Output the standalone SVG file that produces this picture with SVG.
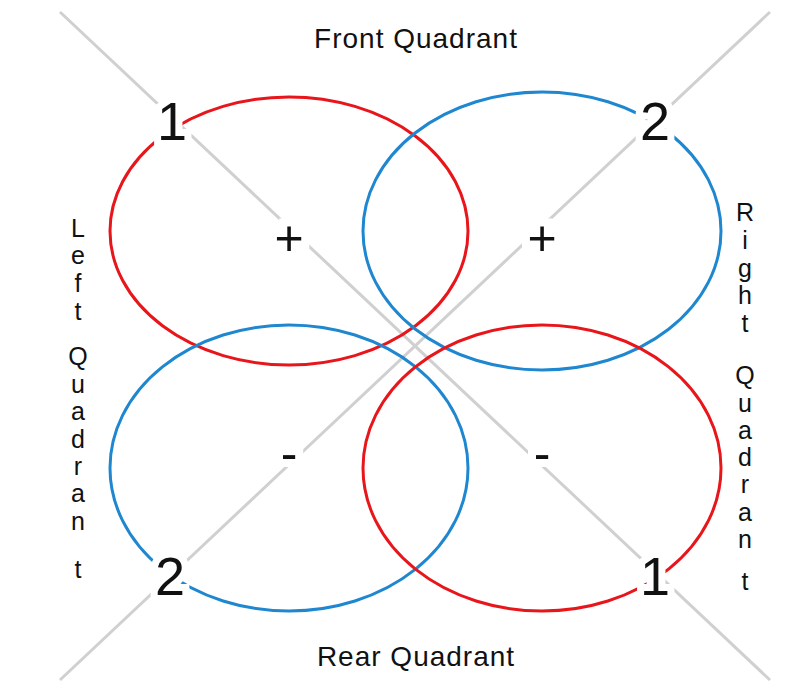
<svg xmlns="http://www.w3.org/2000/svg" width="811" height="691" viewBox="0 0 811 691">
<style>
.l{stroke:#d0d0d0;stroke-width:3;fill:none}
.r{stroke:#e8161b;stroke-width:3;fill:none}
.b{stroke:#1f87d0;stroke-width:3;fill:none}
.n{font-family:"Liberation Sans",sans-serif;font-size:54px;fill:#111;text-anchor:middle;stroke:#fff;stroke-width:14;paint-order:stroke}
.s{font-family:"Liberation Sans",sans-serif;font-size:50px;fill:#111;text-anchor:middle;stroke:#fff;stroke-width:16;paint-order:stroke}
.t{font-family:"Liberation Sans",sans-serif;font-size:28px;letter-spacing:1px;fill:#111;text-anchor:middle}
.v{font-family:"Liberation Sans",sans-serif;font-size:25px;fill:#111;text-anchor:middle}
</style>
<g id="connectors">
<line class="l" x1="60" y1="12" x2="770" y2="680"/>
<line class="l" x1="770" y1="12" x2="60" y2="680"/>
</g>
<g id="circles">
<ellipse id="c1" class="r" cx="289" cy="231" rx="179" ry="134"/>
<ellipse id="c2" class="b" cx="542" cy="231" rx="179" ry="139"/>
<ellipse id="c3" class="b" cx="289" cy="468" rx="179" ry="143"/>
<ellipse id="c4" class="r" cx="542" cy="468" rx="179" ry="143"/>
</g>
<g id="labels">
<text class="n" x="172" y="140">1</text>
<text class="n" x="655" y="140">2</text>
<text class="n" x="170" y="595">2</text>
<text class="n" x="655" y="595">1</text>
<text class="s" x="289" y="255">+</text>
<text class="s" x="542" y="255">+</text>
<text class="s" x="289" y="470">-</text>
<text class="s" x="542" y="470">-</text>
<text class="t" x="416" y="48">Front Quadrant</text>
<text class="t" x="416" y="666">Rear Quadrant</text>
</g>
<g id="left-label">
<text class="v" x="78" y="237">L</text><text class="v" x="78" y="264">e</text><text class="v" x="78" y="292">f</text><text class="v" x="78" y="320">t</text><text class="v" x="78" y="365">Q</text><text class="v" x="78" y="393">u</text><text class="v" x="78" y="420">a</text><text class="v" x="78" y="448">d</text><text class="v" x="78" y="475">r</text><text class="v" x="78" y="502">a</text><text class="v" x="78" y="530">n</text><text class="v" x="78" y="578">t</text>
</g>
<g id="right-label">
<text class="v" x="745" y="221">R</text><text class="v" x="745" y="249">i</text><text class="v" x="745" y="277">g</text><text class="v" x="745" y="304">h</text><text class="v" x="745" y="332">t</text><text class="v" x="745" y="384">Q</text><text class="v" x="745" y="412">u</text><text class="v" x="745" y="439">a</text><text class="v" x="745" y="466">d</text><text class="v" x="745" y="493">r</text><text class="v" x="745" y="521">a</text><text class="v" x="745" y="548">n</text><text class="v" x="745" y="590">t</text>
</g>
</svg>
